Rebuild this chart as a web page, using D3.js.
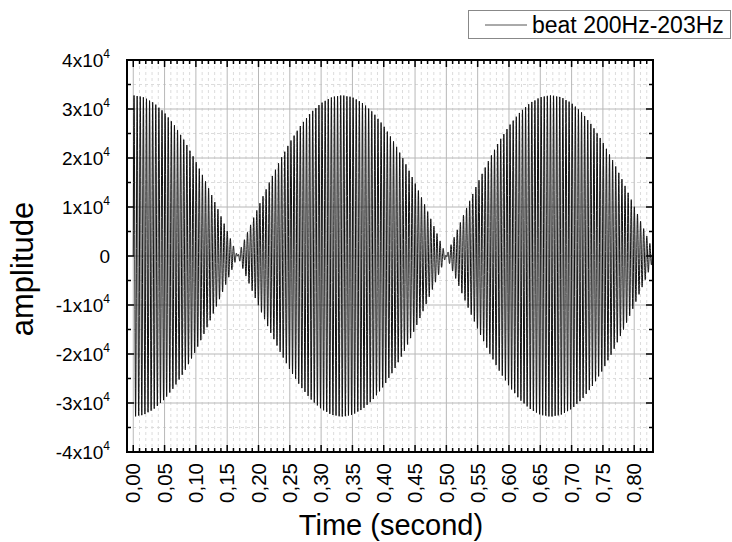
<!DOCTYPE html>
<html>
<head>
<meta charset="utf-8">
<script src="https://cdn.jsdelivr.net/npm/d3@7"></script>
<style>
  html, body { margin: 0; padding: 0; background: #fff; }
  svg { display: block; font-family: "Liberation Sans", Arial, sans-serif; }
</style>
</head>
<body>
<svg id="chart" width="732" height="542"></svg>
<script>
// Two tones that beat against each other (legend: "beat 200Hz-203Hz")
const toneFreqs = [200, 203];          // Hz
const toneAmps = [16384, 16384];       // 16-bit half-scale each
const sampleRate = 8000;               // samples per second
const duration = 0.83;                 // seconds shown

// Axis ticks
const xMajorTicks = [0, 0.05, 0.10, 0.15, 0.20, 0.25, 0.30, 0.35, 0.40, 0.45, 0.50, 0.55, 0.60, 0.65, 0.70, 0.75, 0.80];
const yMajorTicks = [-40000, -30000, -20000, -10000, 0, 10000, 20000, 30000, 40000];
const xLabels = ["0,00","0,05","0,10","0,15","0,20","0,25","0,30","0,35","0,40","0,45","0,50","0,55","0,60","0,65","0,70","0,75","0,80"];
const yMantissas = ["-4","-3","-2","-1","0","1","2","3","4"];
const legendLabel = "beat 200Hz-203Hz";

// Sampled signal: sum of the two tones
const samples = d3.range(Math.round(duration * sampleRate) + 1).map(i => {
  const t = i / sampleRate;
  let v = 0;
  toneFreqs.forEach((f, k) => { v += toneAmps[k] * Math.sin(2 * Math.PI * f * t); });
  return [t, v];
});

const svg = d3.select("#chart");
const L = 127, R = 653, T = 60, B = 452;

const x = d3.scaleLinear().domain([-0.01, 0.83]).range([L, R]);
const y = d3.scaleLinear().domain([-40000, 40000]).range([B, T]);

const xMinor = d3.range(-1, 84).map(i => i / 100).filter(v => Math.round(v * 100) % 5 !== 0);
const yMinor = d3.range(-35000, 40000, 10000);

// Grid
const grid = svg.append("g");
grid.selectAll(".xminor").data(xMinor).join("line")
  .attr("x1", d => x(d)).attr("x2", d => x(d)).attr("y1", T).attr("y2", B)
  .attr("stroke", "#dcdcdc").attr("stroke-width", 1).attr("stroke-dasharray", "3,3");
grid.selectAll(".yminor").data(yMinor).join("line")
  .attr("x1", L).attr("x2", R).attr("y1", d => y(d)).attr("y2", d => y(d))
  .attr("stroke", "#dcdcdc").attr("stroke-width", 1).attr("stroke-dasharray", "3,3");
grid.selectAll(".xmaj").data(xMajorTicks).join("line")
  .attr("x1", d => x(d)).attr("x2", d => x(d)).attr("y1", T).attr("y2", B)
  .attr("stroke", "#b8b8b8").attr("stroke-width", 1);
grid.selectAll(".ymaj").data(yMajorTicks).join("line")
  .attr("x1", L).attr("x2", R).attr("y1", d => y(d)).attr("y2", d => y(d))
  .attr("stroke", "#b8b8b8").attr("stroke-width", 1);

// Waveform
svg.append("clipPath").attr("id", "plotClip").append("rect")
  .attr("x", L).attr("y", T).attr("width", R - L).attr("height", B - T);
svg.append("path")
  .datum(samples)
  .attr("clip-path", "url(#plotClip)")
  .attr("fill", "none")
  .attr("stroke", "#111")
  .attr("stroke-width", 1)
  .attr("d", d3.line().x(d => x(d[0])).y(d => y(d[1])));

// Axes with inward ticks on all four sides
const majLen = 7, minLen = 4;
const axG = svg.append("g").attr("stroke", "#000").attr("stroke-width", 1.5);
function ticks(vals, len, side) {
  axG.append("g").selectAll("line").data(vals).join("line")
    .attr("x1", d => side === "left" ? L : side === "right" ? R : x(d))
    .attr("x2", d => side === "left" ? L + len : side === "right" ? R - len : x(d))
    .attr("y1", d => side === "top" ? T : side === "bottom" ? B : y(d))
    .attr("y2", d => side === "top" ? T + len : side === "bottom" ? B - len : y(d));
}
["top", "bottom"].forEach(s => { ticks(xMajorTicks, majLen, s); ticks(xMinor, minLen, s); });
["left", "right"].forEach(s => { ticks(yMajorTicks, majLen, s); ticks(yMinor, minLen, s); });
svg.append("rect").attr("x", L).attr("y", T).attr("width", R - L).attr("height", B - T)
  .attr("fill", "none").attr("stroke", "#000").attr("stroke-width", 2);

// X tick labels (rotated)
svg.append("g").selectAll("text").data(xMajorTicks).join("text")
  .attr("transform", d => `translate(${x(d)},${B + 11}) rotate(-90)`)
  .attr("text-anchor", "end").attr("dy", "0.35em")
  .attr("font-size", 20.5).attr("fill", "#000")
  .text((d, i) => xLabels[i]);

// Y tick labels with superscript exponent
const yl = svg.append("g").selectAll("text").data(yMajorTicks).join("text")
  .attr("x", 110).attr("y", d => y(d) + 7)
  .attr("text-anchor", "end").attr("font-size", 19).attr("fill", "#000");
yl.each(function(d, i) {
  const t = d3.select(this);
  if (d === 0) { t.text("0"); return; }
  t.append("tspan").text(yMantissas[i] + "x10");
  t.append("tspan").attr("font-size", 12).attr("dy", -9).text("4");
});

// Axis titles
svg.append("text").attr("x", (L + R) / 2 + 1).attr("y", 535)
  .attr("text-anchor", "middle").attr("font-size", 29).text("Time (second)");
svg.append("text").attr("transform", `translate(33,269) rotate(-90)`)
  .attr("text-anchor", "middle").attr("font-size", 31).text("amplitude");

// Legend
const lg = svg.append("g");
lg.append("rect").attr("x", 468.5).attr("y", 10.5).attr("width", 262).attr("height", 28)
  .attr("fill", "#fff").attr("stroke", "#888").attr("stroke-width", 1);
lg.append("line").attr("x1", 485).attr("x2", 527).attr("y1", 25).attr("y2", 25)
  .attr("stroke", "#555").attr("stroke-width", 1);
lg.append("text").attr("x", 532).attr("y", 32.5).attr("font-size", 23).text(legendLabel);
</script>
</body>
</html>
